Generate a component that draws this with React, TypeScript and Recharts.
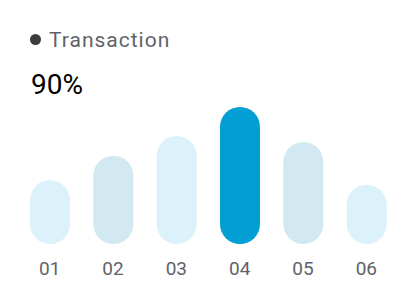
import React from 'react';
import { BarChart, Bar, XAxis, YAxis, Cell } from 'recharts';

const months = ['01', '02', '03', '04', '05', '06'];
const values = [42, 58, 71, 90, 67, 39];
const COLORS = ['#dbf2fa', '#d2e9f2', '#dbf2fa', '#019fd3', '#d2e9f2', '#dbf2fa'];

const data = months.map((m, i) => ({ name: m, value: values[i] }));

const App: React.FC = () => {
  return (
    <div
      style={{
        position: 'absolute',
        top: 0,
        left: 0,
        width: 420,
        height: 308,
        background: '#fff',
        fontFamily: 'Roboto, sans-serif',
      }}
    >
      <div style={{ position: 'absolute', left: 30, top: 34, width: 11, height: 11, borderRadius: '50%', background: '#3c3c3c' }} />
      <div
        style={{
          position: 'absolute',
          left: 49,
          top: 26,
          fontSize: 21,
          letterSpacing: 1,
          color: '#5f6368',
          lineHeight: '28px',
        }}
      >
        Transaction
      </div>
      <div style={{ position: 'absolute', left: 31, top: 68, fontSize: 28, fontWeight: 400, color: '#000', lineHeight: '34px' }}>
        90%
      </div>
      <BarChart width={420} height={308} data={data} margin={{ top: 107, right: 22, bottom: 34, left: 18 }}>
        <XAxis
          dataKey="name"
          axisLine={false}
          tickLine={false}
          height={30}
          tickMargin={12}
          tick={{ fill: '#5f6368', fontSize: 19, fontFamily: 'Roboto, sans-serif' }}
        />
        <YAxis hide domain={[0, 90]} />
        <Bar dataKey="value" barSize={40} radius={[20, 20, 20, 20]} isAnimationActive={false}>
          {data.map((entry, index) => (
            <Cell key={`cell-${index}`} fill={COLORS[index]} />
          ))}
        </Bar>
      </BarChart>
    </div>
  );
};

export default App;
